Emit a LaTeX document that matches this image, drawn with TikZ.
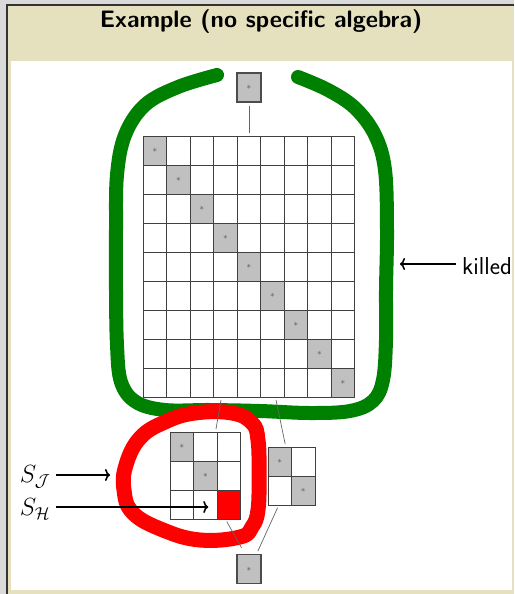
\documentclass[tikz,border=0pt]{standalone}
\usetikzlibrary{arrows.meta}
\definecolor{slidegray}{RGB}{218,218,218}
\definecolor{slidebeige}{RGB}{229,225,190}
\definecolor{killgreen}{RGB}{0,128,0}
\definecolor{cellgray}{RGB}{192,192,192}
\definecolor{stargray}{RGB}{70,78,100}

\begin{document}
\begin{tikzpicture}[
  x=1pt, y=-1pt,
  block/.style={inner sep=0pt, outer sep=0pt},
  cell/.style={draw=black!75, line width=0.8pt, minimum width=23.5pt, minimum height=29pt, inner sep=0pt, outer sep=0pt, anchor=north west},
  starcell/.style={cell, fill=cellgray, font=\fontsize{9}{9}\selectfont, text=stargray},
  onebox/.style={draw=black!70, line width=1.3pt, fill=cellgray, minimum width=24pt, minimum height=29pt, inner sep=0pt, font=\fontsize{9}{9}\selectfont, text=stargray},
  link/.style={draw=black!60, line width=0.7pt, shorten >=3pt, shorten <=3pt},
  hull/.style={line width=14pt, line cap=round, line join=round},
  arrow/.style={-{To[length=5pt,width=12pt]}, line width=1.6pt},
  tag/.style={font=\fontsize{23}{27}\selectfont, inner sep=2pt}
]
\useasboundingbox (0,0) rectangle (514,594);
% slide background
\fill[slidegray] (0,0) rectangle (514,594);
\fill[slidebeige] (7,5) rectangle (514,594);
\draw[black!80, line width=1.5pt] (7,594) -- (7,5) -- (514,5);
\fill[white] (11,61) rectangle (512,590);
\node[font=\sffamily\bfseries\fontsize{23.8}{28}\selectfont, anchor=base] (title) at (261,28) {Example (no specific algebra)};

% hand-drawn loops
\draw[hull, killgreen] plot[smooth, tension=0.6] coordinates {(217,75) (178,87) (145,105) (125,135) (117,175) (116,230) (116,290) (117,345) (121,382) (136,402) (165,410) (210,410) (260,411) (310,413) (350,411) (373,401) (383,380) (386,340) (386,290) (387,230) (385,170) (375,135) (355,108) (328,90) (298,77)};
\draw[hull, red, line width=15pt] plot[smooth cycle, tension=0.7] coordinates {(195,413) (232,413) (252,423) (258,440) (259,475) (258,510) (252,527) (240,537) (200,540) (163,530) (133,513) (124,490) (126,465) (140,438) (165,422)};

% top and bottom boxes
\node[onebox] (top) at (249,87.5) {$\ast$};
\node[onebox] (bottom) at (249,569) {$\ast$};

% big grid
\node[block, minimum width=211.5pt, minimum height=261pt] (big) at (249,266.5) {};
\foreach \r in {1,...,9}
  \foreach \c in {1,...,9}
    \node[cell] (big-\r-\c) at ([xshift={(\c-1)*23.5pt}, yshift={-(\r-1)*29pt}]big.north west) {};
\foreach \i in {1,...,9}
  \node[starcell] (bigstar-\i) at (big-\i-\i.north west) {$\ast$};

% 3x3 grid
\node[block, minimum width=70.5pt, minimum height=87pt] (three) at (205.5,475.5) {};
\foreach \r in {1,2,3}
  \foreach \c in {1,2,3}
    \node[cell] (three-\r-\c) at ([xshift={(\c-1)*23.5pt}, yshift={-(\r-1)*29pt}]three.north west) {};
\foreach \i in {1,2}
  \node[starcell] (threestar-\i) at (three-\i-\i.north west) {$\ast$};
\node[cell, fill=red] (hcell) at (three-3-3.north west) {};

% 2x2 grid
\node[block, minimum width=47pt, minimum height=58pt] (two) at (291.5,476) {};
\foreach \r in {1,2}
  \foreach \c in {1,2}
    \node[cell] (two-\r-\c) at ([xshift={(\c-1)*23.5pt}, yshift={-(\r-1)*29pt}]two.north west) {};
\foreach \i in {1,2}
  \node[starcell] (twostar-\i) at (two-\i-\i.north west) {$\ast$};

% order lines
\draw[link] (top) -- (big);
\draw[link] ([xshift=-27.5pt]big.south) -- ([xshift=10pt]three.north);
\draw[link] ([xshift=26.4pt]big.south) -- ([xshift=-5.7pt]two.north);
\draw[link, shorten >=7pt] ([xshift=19.8pt]three.south) -- ([xshift=-4pt]bottom.north);
\draw[link] ([xshift=-12.7pt]two.south) -- ([xshift=7.6pt]bottom.north);

% labels
\node[tag, font=\sffamily\fontsize{24.5}{28}\selectfont] (killed) at (487,266) {killed};
\coordinate (kill) at (400,264);
\draw[arrow, shorten <=4pt] (killed.west |- kill) -- (kill);

\node[tag] (sj) at (35,477) {$S_{\mathcal{J}}$};
\node[tag] (sh) at (35,509) {$S_{\mathcal{H}}$};
\coordinate (jtip) at (110,475);
\coordinate (htip) at ([xshift=-9pt, yshift=-2.5pt]hcell.west);
\draw[arrow, shorten <=4pt] (sj.east |- jtip) -- (jtip);
\draw[arrow, shorten <=4pt] (sh.east |- htip) -- (htip);
\end{tikzpicture}
\end{document}
